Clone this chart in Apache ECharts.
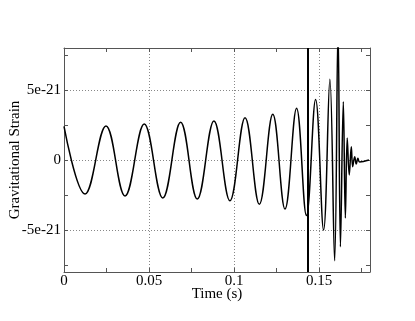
<!DOCTYPE html>
<html>
<head>
<meta charset="utf-8">
<script src="https://cdn.jsdelivr.net/npm/echarts@6/dist/echarts.min.js"></script>
<style>
  html, body { margin: 0; padding: 0; background: #fff; }
  #container { width: 415px; height: 321px; }
</style>
</head>
<body>
<div id="container"></div>
<script>
// times (s) of the peaks and troughs
let times = [0, 0.0124, 0.0247, 0.0359, 0.0472, 0.0581, 0.0686, 0.0784, 0.0882, 0.0976,
    0.1065, 0.1149, 0.1228, 0.1300, 0.1368, 0.1426, 0.1480, 0.1527, 0.1564, 0.1592,
    0.1612, 0.1626, 0.1643, 0.1655, 0.1666, 0.1678, 0.1690, 0.1698, 0.1710, 0.1719,
    0.1729, 0.1739, 0.1794];
// strain in units of 1e-21
let strain = [2.4, -2.43, 2.43, -2.57, 2.57, -2.71, 2.7, -2.79, 2.79, -2.91,
    3.02, -3.16, 3.26, -3.5, 3.69, -3.96, 4.32, -5.0, 5.77, -7.2,
    9.5, -6.2, 4.16, -4.14, 1.57, -1.07, 0.95, -0.48, 0.24, -0.29,
    0.12, -0.14, 0];

let eventTime = 0.1431;

let xTicks = [0, 0.025, 0.05, 0.075, 0.1, 0.125, 0.15, 0.175];
let xLabels = [0, 0.05, 0.1, 0.15];
let yTicks = [-7.5, -5, -2.5, 0, 2.5, 5, 7.5];
let yLabels = [-5, 0, 5];

let pts = times.map((t, i) => [t, strain[i]]);

let font = 'Liberation Serif';
let axisColor = '#555';
let gridStyle = { color: '#888', width: 1, type: [1, 2] };

let dom = document.getElementById('container');
let chart = echarts.init(dom, null, { renderer: 'canvas' });

chart.setOption({
    animation: false,
    grid: { left: 64, right: 45, top: 48, bottom: 49, containLabel: false, outerBoundsMode: 'none' },
    xAxis: [{
        type: 'value', position: 'bottom', min: 0, max: 0.18,
        name: 'Time (s)', nameLocation: 'middle', nameGap: 15, nameMoveOverlap: false,
        nameTextStyle: { fontFamily: font, fontSize: 15, color: '#000', verticalAlign: 'top' },
        axisLine: { show: true, onZero: false, lineStyle: { color: axisColor } },
        axisTick: { show: true, inside: true, length: 4, customValues: xTicks, lineStyle: { color: axisColor } },
        axisLabel: { customValues: xLabels, margin: 2, fontFamily: font, fontSize: 15, color: '#000' },
        splitLine: { show: false }
    }, {
        type: 'value', position: 'top', min: 0, max: 0.18,
        axisLine: { show: true, onZero: false, lineStyle: { color: axisColor } },
        axisTick: { show: true, inside: true, length: 4, customValues: xTicks, lineStyle: { color: axisColor } },
        axisLabel: { show: false },
        splitLine: { show: false }
    }, {
        // only used for the dotted grid
        type: 'value', position: 'bottom', min: 0, max: 0.18,
        axisLine: { show: false },
        axisTick: { show: false, customValues: [0.05, 0.1, 0.15] },
        axisLabel: { show: false },
        splitLine: { show: true, lineStyle: gridStyle }
    }],
    yAxis: [{
        type: 'value', position: 'left', min: -8, max: 8,
        name: 'Gravitational Strain', nameLocation: 'middle', nameGap: 41, nameMoveOverlap: false,
        nameTextStyle: { fontFamily: font, fontSize: 15, color: '#000' },
        axisLine: { show: true, onZero: false, lineStyle: { color: axisColor } },
        axisTick: { show: true, inside: true, length: 4, customValues: yTicks, lineStyle: { color: axisColor } },
        axisLabel: {
            customValues: yLabels, margin: 3, fontFamily: font, fontSize: 15, color: '#000',
            formatter: (v) => v === 0 ? '0' : v + 'e-21'
        },
        splitLine: { show: false }
    }, {
        type: 'value', position: 'right', min: -8, max: 8,
        axisLine: { show: true, onZero: false, lineStyle: { color: axisColor } },
        axisTick: { show: true, inside: true, length: 4, customValues: yTicks, lineStyle: { color: axisColor } },
        axisLabel: { show: false },
        splitLine: { show: false }
    }, {
        type: 'value', position: 'left', min: -8, max: 8,
        axisLine: { show: false },
        axisTick: { show: false, customValues: yLabels },
        axisLabel: { show: false },
        splitLine: { show: true, lineStyle: gridStyle }
    }],
    series: [{
        type: 'line',
        xAxisIndex: 0,
        yAxisIndex: 0,
        data: pts,
        showSymbol: false,
        smooth: 0.4,
        clip: true,
        lineStyle: { color: '#000', width: 1.5 },
        markLine: {
            silent: true,
            symbol: 'none',
            precision: 4,
            label: { show: false },
            lineStyle: { color: '#000', width: 2, type: 'solid' },
            data: [{ xAxis: eventTime }]
        }
    }]
});
</script>
</body>
</html>
